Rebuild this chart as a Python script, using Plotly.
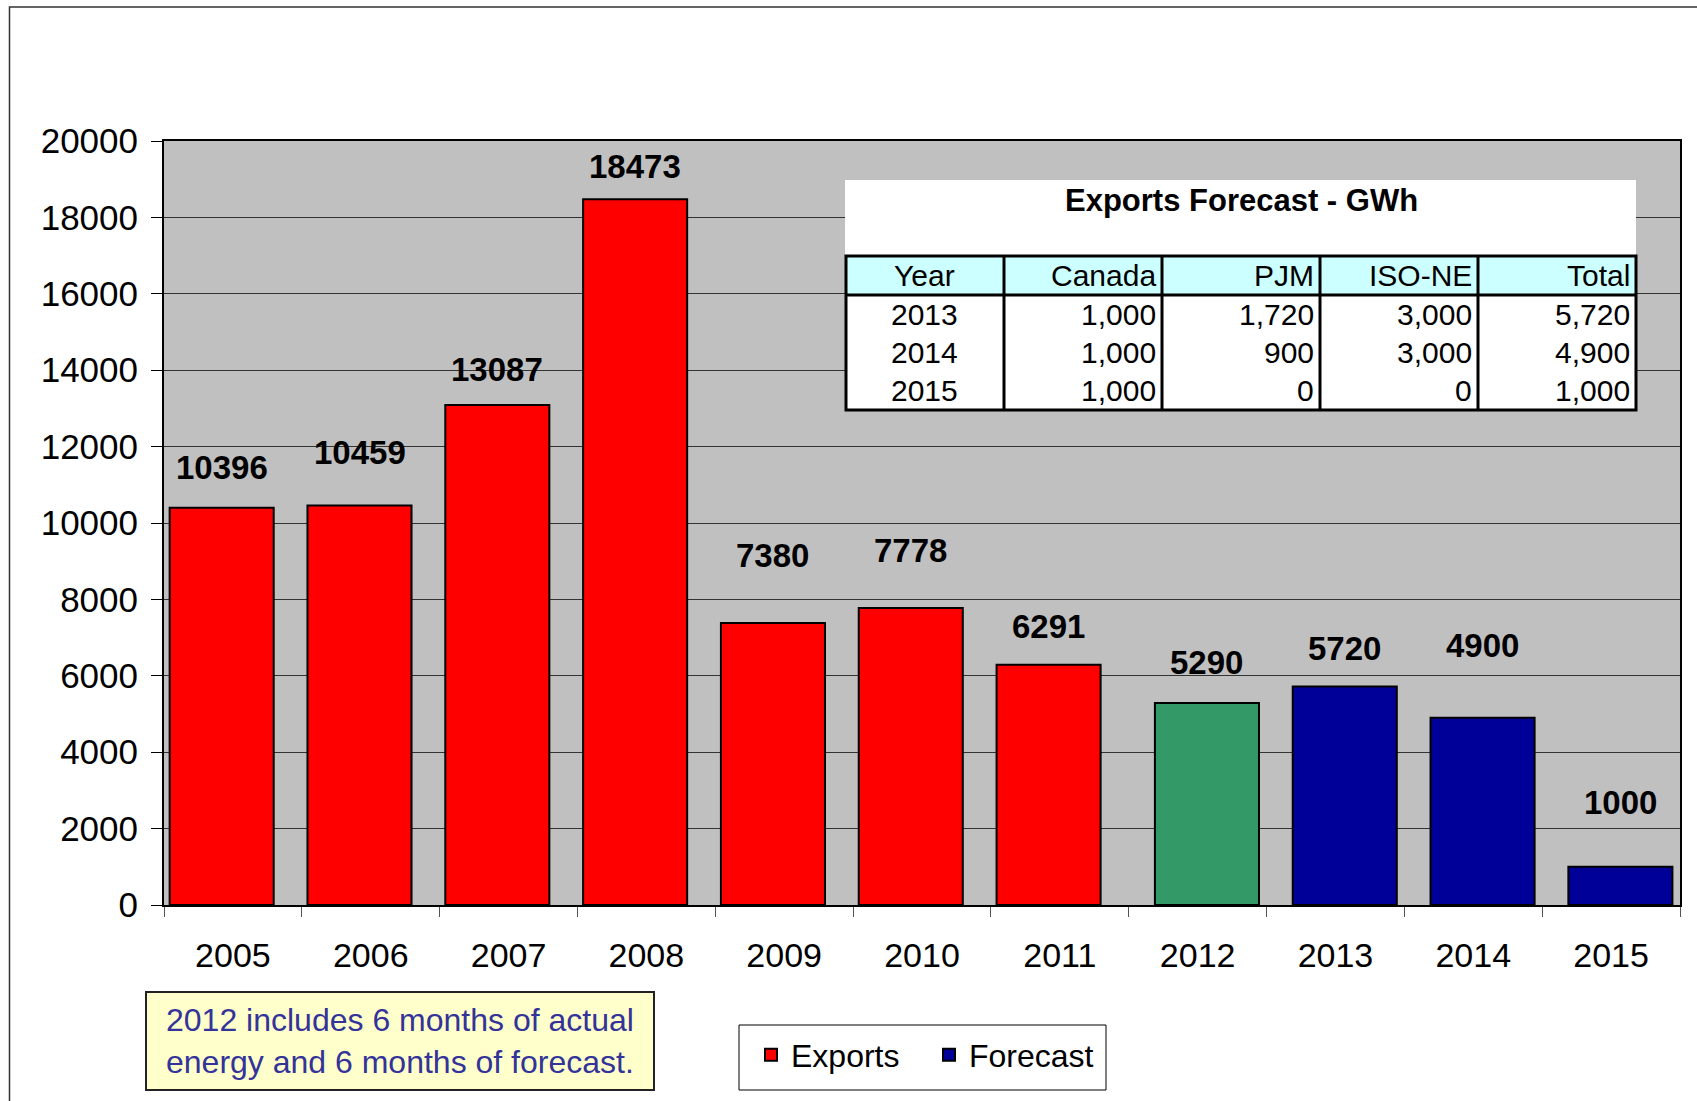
import plotly.graph_objects as go

# ---------------- data ----------------
years = ["2005", "2006", "2007", "2008", "2009", "2010", "2011", "2012", "2013", "2014", "2015"]
export_years = ["2005", "2006", "2007", "2008", "2009", "2010", "2011"]
export_values = [10396, 10459, 13087, 18473, 7380, 7778, 6291]
partial_years = ["2012"]
partial_values = [5290]
forecast_years = ["2013", "2014", "2015"]
forecast_values = [5720, 4900, 1000]

table_title = "Exports Forecast - GWh"
table_header = ["Year", "Canada", "PJM", "ISO-NE", "Total"]
table_year = ["2013", "2014", "2015"]
table_canada = ["1,000", "1,000", "1,000"]
table_pjm = ["1,720", "900", "0"]
table_isone = ["3,000", "3,000", "0"]
table_total = ["5,720", "4,900", "1,000"]

note_text = "2012 includes 6 months of actual<br>energy and 6 months of forecast."

# ---------------- style ----------------
FONT = "Liberation Sans, Arial, sans-serif"
W, H = 1697, 1101
ML, MR, MT, MB = 164, 17, 141, 196
PW, PH = W - ML - MR, H - MT - MB
CAT_PX = PW / len(years)

RED, GREEN, BLUE = "#FF0000", "#339966", "#000099"
BAR_W = 0.755
EXP_OFF = -0.459
FC_OFF = -0.31
label_lift = {"2005": 40, "2006": 53, "2007": 36, "2008": 33, "2009": 68, "2010": 57,
              "2011": 38, "2012": 40, "2013": 38, "2014": 72, "2015": 64}


def px2x(px):
    return (px - ML) / PW


def py2y(py):
    return (H - MB - py) / PH


fig = go.Figure()
bar_line = dict(color="black", width=2)
fig.add_trace(go.Bar(name="Exports", x=export_years, y=export_values,
                     marker=dict(color=RED, line=bar_line), width=BAR_W, offset=EXP_OFF))
fig.add_trace(go.Bar(name="2012", x=partial_years, y=partial_values, showlegend=False,
                     marker=dict(color=GREEN, line=bar_line), width=BAR_W, offset=FC_OFF))
fig.add_trace(go.Bar(name="Forecast", x=forecast_years, y=forecast_values,
                     marker=dict(color=BLUE, line=bar_line), width=BAR_W, offset=FC_OFF))

annotations = []
# value labels (x given as category index on the category axis)
for xs, vs, off in [(export_years, export_values, EXP_OFF),
                    (partial_years, partial_values, FC_OFF),
                    (forecast_years, forecast_values, FC_OFF)]:
    for x, v in zip(xs, vs):
        annotations.append(dict(
            x=years.index(x) + off + BAR_W / 2, y=v, xref="x", yref="y",
            text=f"<b>{v}</b>", showarrow=False,
            xanchor="center", yanchor="middle", yshift=label_lift[x],
            font=dict(family=FONT, size=33, color="black")))

# table (drawn from the table lists)
T_L, T_R, T_TITLE_TOP, T_HEAD_TOP, T_HEAD_BOT, T_BOT = 846, 1636, 180, 256, 295, 410
COLW = (T_R - T_L) / len(table_header)
ROWH = (T_BOT - T_HEAD_BOT) / len(table_year)
shapes = []
shapes.append(dict(type="rect", xref="paper", yref="paper", layer="above",
                   x0=px2x(T_L - 1), x1=px2x(T_R), y0=py2y(T_HEAD_TOP), y1=py2y(T_TITLE_TOP),
                   fillcolor="white", line=dict(width=0)))
shapes.append(dict(type="rect", xref="paper", yref="paper", layer="above",
                   x0=px2x(T_L), x1=px2x(T_R), y0=py2y(T_HEAD_BOT), y1=py2y(T_HEAD_TOP),
                   fillcolor="#CCFFFF", line=dict(width=0)))
shapes.append(dict(type="rect", xref="paper", yref="paper", layer="above",
                   x0=px2x(T_L), x1=px2x(T_R), y0=py2y(T_BOT), y1=py2y(T_HEAD_BOT),
                   fillcolor="white", line=dict(width=0)))
for j in range(1, len(table_header)):
    xx = px2x(T_L + j * COLW)
    shapes.append(dict(type="line", xref="paper", yref="paper", layer="above",
                       x0=xx, x1=xx, y0=py2y(T_BOT), y1=py2y(T_HEAD_TOP),
                       line=dict(color="black", width=3)))
shapes.append(dict(type="line", xref="paper", yref="paper", layer="above",
                   x0=px2x(T_L), x1=px2x(T_R), y0=py2y(T_HEAD_BOT), y1=py2y(T_HEAD_BOT),
                   line=dict(color="black", width=3)))
shapes.append(dict(type="rect", xref="paper", yref="paper", layer="above",
                   x0=px2x(T_L), x1=px2x(T_R), y0=py2y(T_BOT), y1=py2y(T_HEAD_TOP),
                   line=dict(color="black", width=3)))

annotations.append(dict(x=px2x((T_L + T_R) / 2), y=py2y(200), xref="paper", yref="paper",
                        text=f"<b>{table_title}</b>", showarrow=False, xanchor="center",
                        yanchor="middle", font=dict(family=FONT, size=31, color="black")))

columns = [table_year, table_canada, table_pjm, table_isone, table_total]


def cell(j, row_center, txt):
    if j == 0:
        xx, anc = px2x(T_L + COLW / 2), "center"
    else:
        xx, anc = px2x(T_L + (j + 1) * COLW - 4), "right"
    return dict(x=xx, y=py2y(row_center), xref="paper", yref="paper", text=txt,
                showarrow=False, xanchor=anc, yanchor="middle",
                font=dict(family=FONT, size=30, color="black"))


for j, h in enumerate(table_header):
    annotations.append(cell(j, (T_HEAD_TOP + T_HEAD_BOT) / 2, h))
for j, col in enumerate(columns):
    for i, v in enumerate(col):
        annotations.append(cell(j, T_HEAD_BOT + ROWH * (i + 0.5), v))

# note box
shapes.append(dict(type="rect", xref="paper", yref="paper", layer="above",
                   x0=px2x(146), x1=px2x(654), y0=py2y(1090), y1=py2y(992),
                   fillcolor="#FFFFCC", line=dict(color="#222222", width=2)))
annotations.append(dict(x=px2x(164), y=py2y(1041), xref="paper", yref="paper",
                        text=note_text, showarrow=False, xanchor="left", yanchor="middle",
                        align="left",
                        font=dict(family=FONT, size=32, color="#333399")))

# legend box
shapes.append(dict(type="rect", xref="paper", yref="paper", layer="above",
                   x0=px2x(739), x1=px2x(1106), y0=py2y(1090), y1=py2y(1025),
                   fillcolor="white", line=dict(color="black", width=1)))

# outer frame
shapes.append(dict(type="rect", xref="paper", yref="paper", layer="above",
                   x0=px2x(9.5), x1=px2x(1730), y0=py2y(1130), y1=py2y(7),
                   line=dict(color="#333333", width=1.5)))

fig.update_layout(
    width=W, height=H,
    margin=dict(l=ML, r=MR, t=MT, b=MB, pad=0),
    paper_bgcolor="white", plot_bgcolor="#C0C0C0",
    barmode="overlay",
    font=dict(family=FONT, color="black"),
    showlegend=True,
    legend=dict(orientation="h", x=px2x(751), y=py2y(1055), xanchor="left", yanchor="middle",
                bgcolor="rgba(0,0,0,0)", borderwidth=0, entrywidth=133,
                font=dict(family=FONT, size=32, color="black")),
    annotations=annotations,
    shapes=shapes,
)
fig.update_xaxes(type="category", categoryorder="array", categoryarray=years,
                 range=[-0.5, len(years) - 0.5], tickangle=0,
                 tickson="boundaries", ticks="outside", ticklen=10, tickcolor="#555555",
                 showline=True, linecolor="black", linewidth=2, mirror=True,
                 showgrid=False, ticklabelstandoff=19,
                 tickfont=dict(family=FONT, size=34, color="black"))
fig.update_yaxes(range=[0, 20000], dtick=2000, tick0=0, tickformat="d",
                 ticks="outside", ticklen=11,
                 tickcolor="black", showline=True, linecolor="black", linewidth=2, mirror=True,
                 showgrid=True, gridcolor="#333333", gridwidth=1, zeroline=False,
                 ticklabelstandoff=6,
                 tickfont=dict(family=FONT, size=35, color="black"))

fig.write_html("out.html", config={"displayModeBar": False},
               post_script="document.body.style.margin='0';")
